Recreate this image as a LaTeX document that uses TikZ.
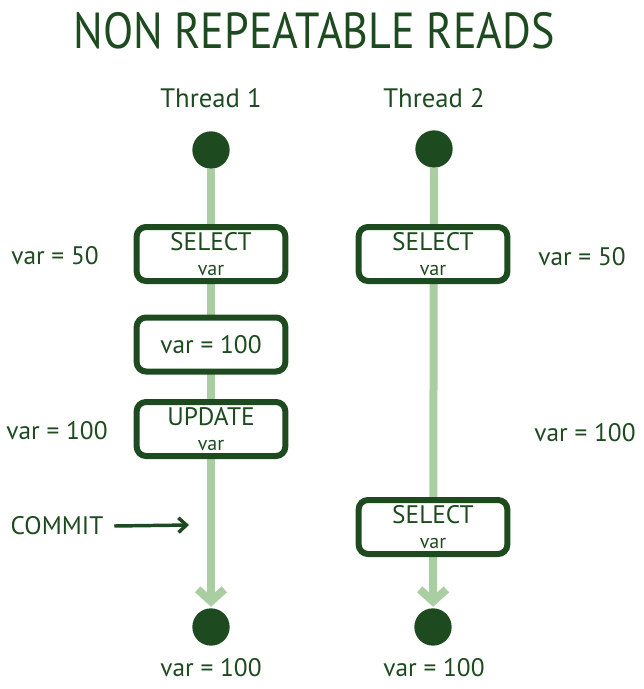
\documentclass[tikz,border=0pt]{standalone}
\usepackage{fontspec}
\setmainfont{PT Sans}
\usetikzlibrary{arrows.meta}
\definecolor{dk}{HTML}{1D4A1F}
\definecolor{lt}{HTML}{A9CEA1}
\tikzset{
  x=0.75pt,y=-0.75pt,
  dot/.style={circle,fill=dk,minimum size=28pt,inner sep=0pt},
  thread/.style={draw=lt,line width=6pt,-{Straight Barb[length=9pt,width=20pt,line width=6pt]},shorten >=1pt},
  opbox/.style={draw=dk,fill=white,line width=4.5pt,rounded corners=7pt,minimum width=111.5pt,minimum height=40.5pt,align=center,inner sep=0pt,text=dk,font=\fontsize{19}{19}\selectfont},
  lab/.style={text=dk,font=\fontsize{19}{22}\selectfont,inner sep=0pt},
  head/.style={text=dk,font=\fontsize{20}{24}\selectfont,inner sep=0pt}
}
\newcommand{\smvar}{\\{\fontsize{15}{15}\selectfont var}}
\begin{document}
\begin{tikzpicture}
\useasboundingbox (0,0) rectangle (643,689);
\node[text=dk,font=\fontsize{38}{40}\selectfont,inner sep=0pt,xscale=0.87] (title) at (314,31) {NON REPEATABLE READS};
\node[head] (h1) at (211,98) {Thread 1};
\node[head] (h2) at (434,98) {Thread 2};
% dots
\node[dot] (t1a) at (211,150) {};
\node[dot] (t1b) at (211,627) {};
\node[dot] (t2a) at (434,149) {};
\node[dot] (t2b) at (433,627) {};
% thread lines
\draw[thread] (t1a) -- (t1b);
\draw[thread] (t2a) -- (t2b);
% boxes
\node[opbox] (s1) at (211,254) {SELECT\smvar};
\node[opbox] (v1) at (211,344.5) {var = 100};
\node[opbox] (u1) at (211,429) {UPDATE\smvar};
\node[opbox] (s2) at (433,254) {SELECT\smvar};
\node[opbox] (s3) at (433,527) {SELECT\smvar};
% labels
\node[lab] (l1) at (55,256) {var = 50};
\node[lab] (l2) at (57,431) {var = 100};
\node[lab] (c1) at (57,526) {COMMIT};
\coordinate (c1end) at (189,525);
\draw[dk,line width=2.6pt,-{Straight Barb[length=6pt,width=11pt,line width=2.6pt]}] (c1.east) ++(8pt,0) -- (c1end);
\node[lab] (r1) at (582,257) {var = 50};
\node[lab] (r2) at (585,433) {var = 100};
\node[lab] (b1) at (211,668) {var = 100};
\node[lab] (b2) at (434,668) {var = 100};
\end{tikzpicture}
\end{document}
